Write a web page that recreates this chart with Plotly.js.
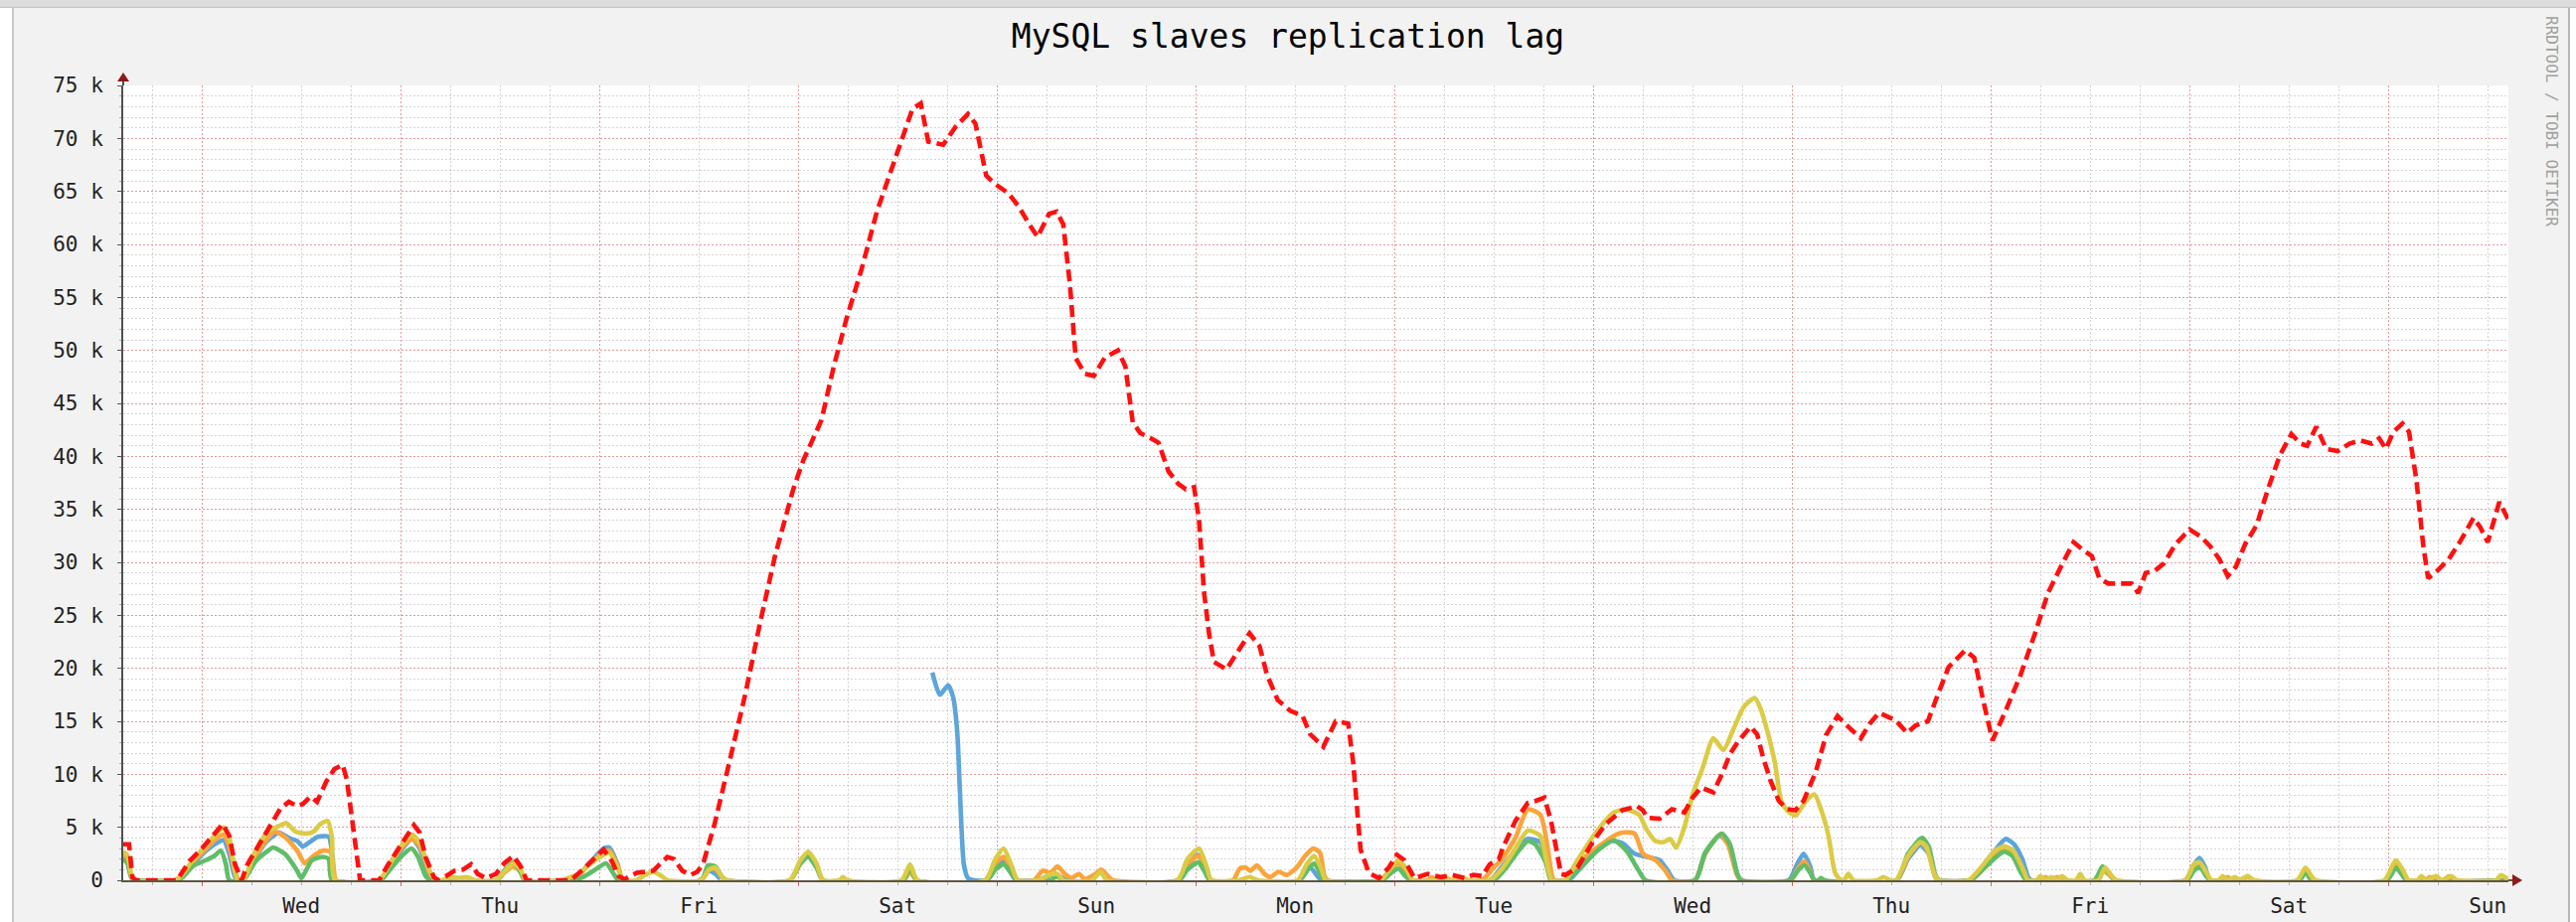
<!DOCTYPE html>
<html>
<head>
<meta charset="utf-8">
<script src="https://cdn.plot.ly/plotly-3.0.1.min.js"></script>
<style>
  html, body { margin:0; padding:0; background:#ffffff; width:2592px; height:928px; overflow:hidden; }
  #topbar { position:absolute; left:0; top:0; width:2592px; height:8px; background:#dcdcdc; border-bottom:1px solid #c4c4c4; box-sizing:border-box; }
  #canvas { position:absolute; left:12px; top:8px; width:2574px; height:920px; background:#f2f2f2;
            border-left:2px solid #c8c8c8; border-right:2px solid #b8b8b8; box-sizing:border-box; }
  #chart { position:absolute; left:0; top:0; width:2592px; height:928px; }
</style>
</head>
<body>
<div id="topbar"></div>
<div id="canvas"></div>
<div id="chart"></div>
<script>
// ---------- data (time in hours from Wednesday 00:00 of the first week, lag in thousands of seconds) ----------
const dayLabels = ['Wed','Thu','Fri','Sat','Sun','Mon','Tue','Wed','Thu','Fri','Sat','Sun'];
const yTickVals = [0,5,10,15,20,25,30,35,40,45,50,55,60,65,70,75];
const yTickText = ['0','5 k','10 k','15 k','20 k','25 k','30 k','35 k','40 k','45 k','50 k','55 k','60 k','65 k','70 k','75 k'];

const redH = [-9.5,-8.8,-8.4,-8.0,-3.0,-1.5,0,1.5,2.5,3.3,4.0,4.8,
  5.5,7,8.5,9.5,10.5,11.5,12.2,13.1,13.9,15.0,16.0,17.0,17.5,18.0,18.5,19.1,
  21.4,22.5,24.0,25.6,26.3,27.0,28.0,28.5,
  29.5,30.5,31.5,32.5,33.3,34.3,35.5,36.5,37.6,38.5,39.2,
  44.5,46,47.5,48.5,49.5,50.3,51,52.5,54.5,56.2,57.0,58.0,59.0,59.8,
  60.5,61.9,63.7,65.6,67.4,69.2,71.4,72.6,74.8,76.3,77.8,79.7,81.5,83.3,84.6,85.8,86.8,87.7,89.5,91,92.5,93.4,
  94.7,95.6,97.4,98.6,99.9,100.9,102.3,103.2,104,104.8,105.5,106.6,107.7,109,110.6,111.5,112.4,113.3,114.6,115.5,
  116.7,117.9,118.8,119.8,120.4,121,121.6,122.2,123.7,125.3,126.5,127.7,128.6,129.9,131.4,132.9,133.8,135.4,136.9,138.4,
  139,139.9,140.9,142.1,143.3,144.3,145.2,146.4,148,149.6,151,152.5,153.5,154.6,155.5,156.6,157.1,158.6,160.1,161.1,162.1,
  162.9,163.6,164.1,164.6,166.1,168,169.5,171.5,173.3,174.0,174.5,176,177.5,179,180,181,182.5,183.7,184.5,185.5,187,187.8,
  188.5,189.4,190.4,191.4,192.4,193.4,194.9,196.1,197.5,198.9,200.3,201.4,202.5,204.5,205.9,206.9,208.4,209.5,210.9,212.9,
  214,215.1,216.2,217.9,219.6,221.3,222.9,224.6,226,227.1,228.2,229.1,230.2,231.9,233,233.8,234.7,235.8,236.9,238.3,240,
  241.4,242.5,243.6,244.6,245.6,246.7,248.1,249.5,250.9,252.3,253.4,254.2,255.3,256.5,257.9,259.3,260.6,262,262.9,263.7,
  264.6,265.7,266.5,267.4,268.2,268.8,269.9,271.3,272.7,274.3,275.1,276,277.4,278.5];
const redV = [3.4,3.4,0.3,0,0,1.8,3.0,4.3,5.3,4.2,1.5,0,
  1.5,3.5,5.5,6.8,7.4,7.0,7.2,7.9,7.4,9.3,10.5,10.9,9.5,6.5,3.5,0,
  0,1.5,3.3,5.2,4.5,2.2,0.3,0,
  0.4,0.9,1.0,1.5,0.6,0.2,0.6,1.6,2.3,1.3,0,
  0,1.0,2.2,2.9,1.8,0.4,0.1,0.7,0.9,2.2,2.0,0.9,0.5,0.8,
  1.5,5.3,11.2,17.5,24.3,30.6,36.9,39.6,43.4,48.5,52.9,57.8,63.1,67.2,69.9,72.8,73.3,69.7,69.4,71.1,72.3,71.4,
  66.5,65.8,64.8,63.6,61.9,60.7,62.9,63.1,61.9,56.3,49.3,47.8,47.6,49.3,50.0,48.5,43.2,42.2,41.7,41.3,
  38.6,37.4,36.9,37.1,34.0,27.2,23.3,20.6,19.9,21.8,23.3,22.1,19.4,17.0,16.0,15.5,13.8,12.6,15.0,14.8,
  11.2,2.9,0.7,0.2,1.2,2.4,1.9,0.2,0.6,0.3,0.5,0.2,0.5,0.4,1.5,2.0,3.1,5.6,7.3,7.5,7.8,
  5.6,2.5,0.6,0.5,1.2,3.7,5.3,6.6,7.0,6.6,5.9,5.8,6.7,6.4,7.8,8.75,8.3,10.3,11.9,13.1,14.5,13.75,
  11.6,9.4,7.5,6.7,6.6,7.5,10.3,13.7,15.5,14.4,13.4,14.8,15.8,15.1,13.9,14.6,15.0,17.3,20.1,21.7,
  21.0,16.9,13.2,16.2,19.4,23.2,27.1,29.8,31.9,31.2,30.6,28.5,28.0,28.0,28.0,27.1,29.0,29.2,29.9,31.7,33.1,
  32.4,31.5,30.3,28.7,29.6,31.7,33.5,37.0,40.1,42.1,41.2,41.0,42.8,40.7,40.5,41.2,41.5,41.2,41.7,40.7,
  42.3,43.1,42.3,37.7,31.7,28.5,29.2,30.3,32.0,34.2,33.3,31.9,35.7,34.0];

const blueH = [-9.5,-9.0,-8.5,-8,-3.2,-2.5,-1,0.5,2.0,2.6,3.3,3.9,4.3,
  5.0,6.5,8,9.3,10.5,11.5,12.2,13,14,15.3,15.8,16.1,
  21.4,22.5,24,25.4,26.3,27.3,28,35.5,36.5,37.6,38.5,39,
  44,45.5,47,48.5,49.2,50.2,50.8,60.2,61.2,62,62.6,
  62.8,
  88.2,89.1,90.1,90.7,91.2,91.6,92,92.5,93.2,
  94.6,95.8,96.6,97.6,98.3,101,102.5,103.5,104.5,
  117.8,119,120.3,121.2,121.8,132.5,133.8,134.6,135.2,
  142.3,143.5,144.5,145.5,146.2,155.5,157,158.6,160,161.6,162.3,162.9,
  165,166.5,168.5,170,171.5,173,174.5,176,177,177.8,
  180.3,181.5,183.2,184.3,185.3,185.8,191.6,192.6,193.4,194.2,194.7,
  204.6,206,207.5,208.5,209.3,209.7,213.5,215,216.5,217.8,218.8,219.8,220.5,220.9,
  239.5,240.4,241.2,241.9,242.5,263.8,264.9,265.7,266.3,278.5];
const blueV = [2.2,1.8,0.3,0,0,0.4,1.6,2.8,3.6,3.8,2.5,0.5,0,
  0,2.2,3.8,4.5,4.0,3.7,3.2,3.6,4.1,4.1,2,0,
  0,1.0,2.8,3.9,3.0,0.8,0,0,0.8,1.4,0.8,0,
  0,0.5,1.8,3.0,3.1,1.5,0,0,0.9,0.6,0.1,
  null,
  19.6,17.5,18.4,17.3,14.0,7.0,1.5,0.2,0,
  0,1.3,1.8,0.8,0,0,0.5,0.4,0,
  0,1.5,2.4,1.2,0,0,1.2,0.5,0,
  0,1.0,1.7,0.8,0,0,1.3,2.8,3.9,3.6,2.0,0,
  0,1.2,3.0,3.75,3.5,2.5,2.2,1.9,0.9,0,
  0,2.5,4.2,3.5,0.8,0,0,1.5,2.5,1.3,0,
  0,2.0,3.3,2.5,0.3,0,0,1.0,2.8,3.9,3.4,2.0,0.3,0,
  0,1.3,2.1,1.2,0,0,1.2,0.5,0,0];

const orangeH = [-9.5,-9.0,-8.5,-8,-3.2,-2.5,-1,0.5,2.0,2.6,3.3,4.0,4.5,
  5.0,6.5,8,8.8,10,11.5,12.4,13.3,14.6,15.5,15.9,16.2,
  21.4,22.5,24,25.4,26.4,27.5,28.2,35.6,36.5,37.6,38.5,39.1,
  44,45.5,47,48.5,49.2,50.3,50.9,60.3,61.2,62,62.8,63.3,
  71,72.2,73.2,74.2,75,84.7,85.5,86.3,
  94.6,95.8,96.8,97.8,98.5,
  100.5,101.5,102.5,103.3,104.2,105,105.9,106.6,107.7,108.6,109.5,110,
  117.8,119,120.3,121.2,121.8,
  124.5,125.3,126,126.6,127.4,128.3,129,130,131,132.2,133.2,134.2,135,135.5,135.9,
  142.3,143.5,144.5,145.4,146.2,148,148.5,149,
  154.5,156,157,158.6,160.1,161.6,162.3,163,163.3,
  164.8,166.1,168.5,170.5,171.5,173,174,175.5,176.7,177.5,
  180.3,181.5,183.3,184.3,185.3,185.8,191.8,192.8,193.5,194.2,194.7,
  204.6,206,207.5,208.5,209.3,209.7,213.5,215,216.5,217.8,218.8,219.8,220.5,
  222,222.6,223.2,224,224.6,228.5,229.5,230.3,231,
  239.5,240.5,241.3,242,242.6,244,244.6,245.2,246.5,247,247.6,
  263.8,264.9,265.8,266.4,268.5,269,269.6,270.8,271.3,271.9,278.5];
const orangeV = [2.4,2.0,0.3,0,0,0.4,1.8,3.0,4.1,4.3,3.2,0.8,0,
  0,2.3,4.0,4.6,4.1,2.8,1.6,2.2,2.8,2.7,1.2,0,
  0,1.1,3.0,3.9,3.1,0.7,0,0,0.7,1.3,0.8,0,
  0,0.5,1.7,2.6,2.8,1.2,0,0,1.0,1.1,0.3,0,
  0,1.6,2.4,1.4,0,0,0.8,0,
  0,1.6,2.2,1.0,0,
  0,0.9,0.7,1.3,0.6,0.2,0.6,0.1,0.5,1.0,0.3,0,
  0,1.5,2.3,1.1,0,
  0,1.1,1.2,0.9,1.4,0.6,0.3,0.8,0.5,1.2,2.3,3.0,2.6,0.5,0,
  0,1.0,1.6,0.9,0,0,0.3,0,
  0,1.2,2.0,4.0,6.7,6.2,4.0,0.5,0,
  0,1.6,3.1,4.2,4.5,4.4,2.5,1.9,0.9,0,
  0,2.5,4.3,3.3,0.6,0,0,1.2,1.8,0.8,0,
  0,2.2,3.6,2.7,0.3,0,0,1.0,2.3,2.9,2.5,1.2,0,
  0,0.3,0,0.3,0,0,0.9,0.5,0,
  0,1.2,1.4,0.7,0,0,0.3,0,0,0.4,0,
  0,1.7,0.8,0,0,0.3,0,0,0.4,0,0];

const greenH = [-9.5,-9.0,-8.5,-8,-3.0,-2.3,-1,0.5,1.5,2.3,2.9,3.3,
  5.0,6.5,8,8.6,10,11.5,12.0,13.3,14.6,15.3,15.7,
  21.6,22.5,24,25.3,26.1,27,27.6,35.6,36.6,37.6,38.4,39,
  44.5,46,47.5,48.8,49.8,50.3,60.3,61.1,62,62.8,63.3,
  71,72.2,73.2,74.2,75,84.7,85.5,86.3,
  94.8,95.8,96.8,97.8,98.4,102.5,103.2,104,
  118,119,120.3,121.1,121.7,132.5,133.5,134.3,135,135.5,
  142.5,143.6,144.5,145.3,146,
  156,157.5,159,160.1,161,162.3,162.9,
  164.8,166.5,168.5,170.5,172,173.5,174.3,
  180.3,181.5,183.5,184.5,185.4,185.9,191.8,192.8,193.5,194.2,194.7,195.2,195.5,195.9,
  204.6,206,207.7,208.5,209.3,209.8,213.5,215,216.5,217.6,218.6,219.6,220.3,
  228.5,229.5,230.3,231,239.7,240.6,241.3,242,242.5,253.3,254,254.7,
  263.8,264.9,265.7,266.2,278.5];
const greenV = [2.0,1.6,0.2,0,0,0.3,1.4,1.9,2.3,2.8,1.5,0,
  0,1.8,2.8,3.1,2.5,0.9,0.2,1.9,2.2,2.0,0,
  0,0.8,2.2,3.0,2.2,0.4,0,0,1.0,1.7,0.9,0,
  0,0.3,1.0,1.6,0.5,0,0,1.4,1.3,0.3,0,
  0,1.5,2.2,1.2,0,0,1.2,0,
  0,1.0,1.5,0.6,0,0,0.4,0,
  0,1.0,1.7,0.8,0,0,1.0,1.6,0.7,0,
  0,0.7,1.1,0.4,0,
  0,1.2,2.8,3.7,3.4,1.6,0,
  0,1.2,2.8,3.75,2.8,0.9,0,
  0,2.6,4.4,3.4,0.6,0,0,1.0,1.4,0.7,0,0,0.2,0,
  0,2.5,4.0,3.2,0.5,0,0,1.0,2.1,2.7,2.3,0.8,0,
  0,1.3,0.7,0,0,1.0,1.2,0.4,0,0,0.8,0,
  0,1.2,0.5,0,0];

const yellowH = [-9.5,-9.0,-8.5,-8,-3.2,-2.5,-1,0.5,2.0,2.6,3.3,3.9,4.3,
  5.0,6.5,8,9.5,10.2,11.3,12.5,13.5,14.3,15.2,15.7,16.1,
  21.4,22.5,24,25.4,26.4,27.5,28.2,29,30,31,32,33,
  35.5,36.5,37.6,38.5,39.1,43.5,44.5,45.5,47,48.5,49.2,50.3,50.8,
  52.5,53.5,54.5,55.5,56.2,60.3,61.2,62,62.8,63.3,
  71,72.2,73.2,74.2,75,77,77.4,77.9,84.5,85.5,86.4,
  94.6,95.8,96.8,97.8,98.5,101,102.3,103.3,104,107.5,108.5,109.3,
  117.8,119,120.4,121.3,121.9,125.2,126.5,127.5,
  132.3,133.4,134.3,135.2,135.7,142.3,143.5,144.5,145.5,146.2,
  149,150,151,152,153,
  155.5,157.1,158.6,160.1,161.6,162.3,163,
  164.6,166.1,168.5,170.5,171.8,173.5,174.5,175.5,176.5,177.3,178,179,180,181.2,182.5,183.7,185,186.2,187.5,188.2,
  188.9,189.9,190.7,191.4,192.4,193.6,194.7,195.5,196.4,197.2,197.9,
  198.3,198.8,199.4,202.3,203,203.8,
  204.6,206,207.5,208.2,209.2,209.7,213.3,214.8,216.5,217.6,218.7,219.8,220.5,
  221.5,222,222.6,223.3,224,224.6,225.3,226.3,226.8,227.3,229,229.8,230.6,231.2,
  239.5,240.5,241.2,242,242.6,243.5,244,244.6,245.5,246,247,247.8,
  253,254,254.8,255.2,263.5,264.9,265.8,266.4,
  267.5,268,268.6,269.8,270.4,271.6,272.3,277,277.6,278.3,278.5];
const yellowV = [2.7,2.4,0.4,0,0,0.4,2.0,3.3,4.6,5.0,4.0,1.2,0,
  0,2.8,4.6,5.2,5.4,4.6,4.4,4.6,5.3,5.6,4.0,0,
  0,1.3,3.2,4.3,3.4,0.9,0,0,0.3,0.2,0.3,0,
  0,0.8,1.6,1.0,0,0,0.3,0.6,1.6,2.4,2.6,1.0,0,
  0,0.5,0.8,0.4,0,0,1.0,1.2,0.3,0,
  0,1.8,2.7,1.6,0,0,0.3,0,0,1.5,0,
  0,2.0,3.0,1.3,0,0,0.5,0.6,0,0,0.8,0,
  0,2.0,3.0,1.3,0,0,0.3,0,
  0,1.5,2.3,1.0,0,0,1.1,1.9,1.0,0,
  0,0.3,0,0.3,0,
  0,1.2,3.0,4.7,4.2,2.0,0,
  0,1.9,4.7,6.4,6.7,6.2,4.7,3.7,3.6,3.9,3.1,5.0,8.1,10.6,13.4,12.3,14.4,16.4,17.2,16.2,
  14.4,11.2,7.5,6.6,6.1,7.4,8.1,6.7,4.2,0.7,0,
  0,0.6,0,0,0.3,0,
  0,2.3,3.6,3.2,0.5,0,0,1.2,2.8,3.2,2.8,1.2,0,
  0,0.4,0,0.3,0,0.4,0,0,0.6,0,0,1.2,0.4,0,
  0,1.5,1.7,0.8,0,0,0.4,0,0.3,0,0.4,0,
  0,1.2,0.3,0,0,1.9,0.9,0,
  0,0.4,0,0.4,0,0.4,0,0,0.5,0.2,0.1];

// ---------- helpers ----------
const BASE = Date.UTC(2024, 0, 3);          // a Wednesday, 00:00
const HOUR = 3600000;
const toT = hs => hs.map(h => BASE + h * HOUR);
const xStart = BASE - 9.5 * HOUR;
const xEnd = xStart + 288 * HOUR;          // 12 days
const midnights = dayLabels.map((d, i) => BASE + i * 24 * HOUR);

const lowLine = (c) => ({ color: c, width: 4.6, shape: 'spline', smoothing: 0.6 });
const traces = [
  { name: 'blue',   x: toT(blueH),   y: blueV,   line: lowLine('#5DA5DA') },
  { name: 'orange', x: toT(orangeH), y: orangeV, line: lowLine('#FAA43A') },
  { name: 'green',  x: toT(greenH),  y: greenV,  line: lowLine('#60BD68') },
  { name: 'yellow', x: toT(yellowH), y: yellowV, line: lowLine('#DBCB45') },
  { name: 'red',    x: toT(redH),    y: redV,    line: { color: '#FF1010', width: 4.6, dash: '12px,6px' } }
].map(t => Object.assign({ type: 'scatter', mode: 'lines', hoverinfo: 'skip', connectgaps: false }, t));

const MONO = 'DejaVu Sans Mono, monospace';
const majorGrid = 'rgba(240,80,80,0.45)';
const minorGrid = 'rgba(150,150,150,0.40)';

const layout = {
  width: 2592, height: 928,
  margin: { l: 124, r: 68, t: 86, b: 42, pad: 0 },
  paper_bgcolor: 'rgba(0,0,0,0)',
  plot_bgcolor: '#ffffff',
  showlegend: false,
  title: { text: 'MySQL slaves replication lag', x: 0.5, xref: 'container', xanchor: 'center',
           y: 0.961, yref: 'container', yanchor: 'middle',
           font: { family: MONO, size: 33, color: '#000000' } },
  xaxis: {
    type: 'date', range: [xStart, xEnd], fixedrange: true,
    tickmode: 'array', tickvals: midnights, ticktext: dayLabels, ticklabelshift: 100,
    ticks: 'outside', ticklen: 4, tickwidth: 1, tickcolor: 'rgba(220,60,60,0.7)',
    ticklabelstandoff: 2,
    tickfont: { family: MONO, size: 21, color: '#222222' },
    showgrid: true, gridcolor: majorGrid, gridwidth: 1, griddash: '2px,2px',
    minor: { tick0: BASE, dtick: 6 * HOUR, showgrid: true, gridcolor: minorGrid, gridwidth: 1, griddash: '2px,2px',
             ticks: 'outside', ticklen: 3, tickcolor: 'rgba(150,150,150,0.7)' },
    showline: true, linecolor: '#5e5640', linewidth: 2,
    zeroline: false, layer: 'above traces'
  },
  yaxis: {
    range: [0, 75], fixedrange: true,
    tickmode: 'array', tickvals: yTickVals, ticktext: yTickText,
    ticks: 'outside', ticklen: 4, tickwidth: 1, tickcolor: '#555555',
    ticklabelstandoff: 10,
    tickfont: { family: MONO, size: 21, color: '#222222' },
    showgrid: true, gridcolor: majorGrid, gridwidth: 1, griddash: '2px,2px',
    minor: { dtick: 1, showgrid: true, gridcolor: minorGrid, gridwidth: 1, griddash: '2px,2px',
             ticks: 'outside', ticklen: 2, tickcolor: 'rgba(120,120,120,0.6)' },
    showline: true, linecolor: '#505050', linewidth: 2,
    zeroline: false, layer: 'above traces'
  },
  shapes: [
    { type: 'path', xref: 'paper', yref: 'paper', xsizemode: 'pixel', ysizemode: 'pixel', xanchor: 0, yanchor: 1,
      path: 'M-1,0 L1,0 L1,5 L-1,5 Z', fillcolor: '#505050', line: { width: 0 } },
    { type: 'path', xref: 'paper', yref: 'paper', xsizemode: 'pixel', ysizemode: 'pixel', xanchor: 0, yanchor: 1,
      path: 'M-6,4 L6,4 L0,13 Z', fillcolor: '#8f1a1a', line: { width: 0 } },
    { type: 'path', xref: 'paper', yref: 'paper', xsizemode: 'pixel', ysizemode: 'pixel', xanchor: 1, yanchor: 0,
      path: 'M0,-1 L5,-1 L5,1 L0,1 Z', fillcolor: '#5e5640', line: { width: 0 } },
    { type: 'path', xref: 'paper', yref: 'paper', xsizemode: 'pixel', ysizemode: 'pixel', xanchor: 1, yanchor: 0,
      path: 'M4,-6 L4,6 L14,0 Z', fillcolor: '#8f1a1a', line: { width: 0 } }
  ],
  annotations: [
    { text: 'RRDTOOL / TOBI OETIKER', xref: 'paper', yref: 'paper', x: 1, y: 1,
      xshift: 44, yshift: 72, xanchor: 'center', yanchor: 'top', textangle: 90, showarrow: false,
      font: { family: MONO, size: 16, color: '#a0a0a0' } }
  ]
};

Plotly.newPlot('chart', traces, layout, { staticPlot: true, displayModeBar: false });
</script>
</body>
</html>
